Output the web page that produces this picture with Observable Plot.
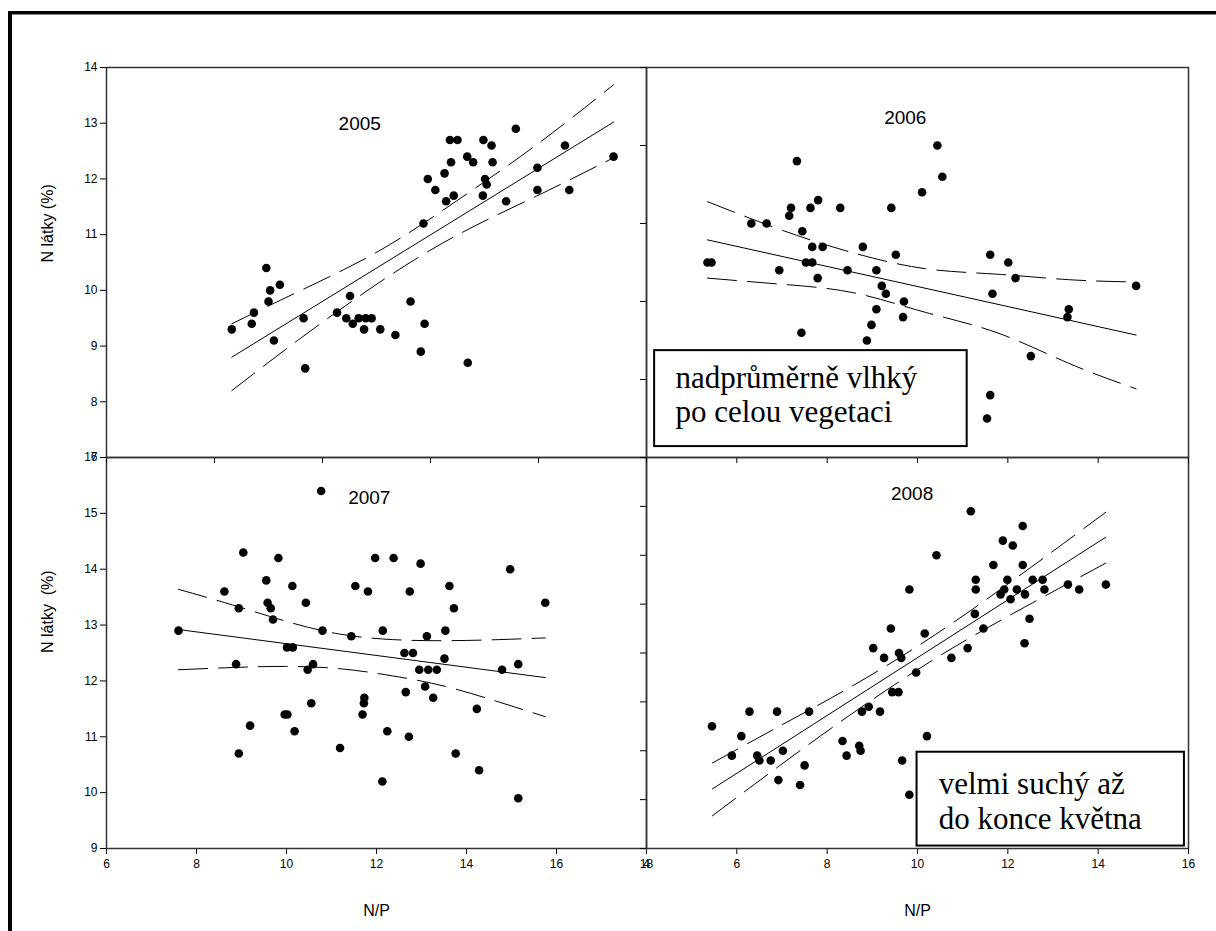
<!DOCTYPE html>
<html><head><meta charset="utf-8">
<script src="https://cdn.jsdelivr.net/npm/d3@7"></script>
<script src="https://cdn.jsdelivr.net/npm/@observablehq/plot@0.6"></script>
<style>
html,body{margin:0;padding:0;background:#fff;}
#chart{position:relative;width:1216px;height:931px;overflow:hidden;background:#fff;}
#frame{position:absolute;left:8px;top:11px;width:1230px;height:940px;border-top:3px solid #000;border-left:4px solid #000;box-shadow:inset 0 1px 0 #888;}
</style></head><body><div id="chart"><div id="frame"></div></div>
<script>
// ---------- data ----------
const np2005 = [8.32,8.69,8.73,8.96,9.00,9.03,9.10,9.21,9.65,9.68,10.27,10.44,10.51,10.56,10.67,10.77,10.80,10.91,11.07,11.35,11.63,11.82,11.87,11.89,11.95,12.09,12.26,12.29,12.36,12.38,12.43,12.50,12.68,12.69,12.79,12.98,12.97,13.01,13.04,13.13,13.15,13.40,13.58,13.98,13.98,14.49,14.57,15.39];
const n2005 = [9.3,9.4,9.6,10.4,9.8,10.0,9.1,10.1,9.5,8.6,9.6,9.5,9.9,9.4,9.5,9.3,9.5,9.5,9.3,9.2,9.8,8.9,11.2,9.4,12.0,11.8,12.1,11.6,12.7,12.3,11.7,12.7,12.4,8.7,12.3,12.7,11.7,12.0,11.9,12.6,12.3,11.6,12.9,12.2,11.8,12.6,11.8,12.4];
const fit2005X = [8.32, 15.39], fit2005Y = [8.80, 13.02];
const band2005X = [8.32, 9.58, 11.05, 12.49, 13.96, 15.39];
const band2005Hi = [9.40, 9.99, 10.71, 11.61, 12.61, 13.69];
const band2005Lo = [8.20, 9.13, 10.14, 10.99, 11.69, 12.38];

const np2006 = [5.35,5.44,6.32,6.66,6.94,7.16,7.20,7.33,7.43,7.45,7.53,7.63,7.67,7.67,7.79,7.80,7.90,8.29,8.45,8.79,8.88,8.98,9.09,9.09,9.21,9.30,9.42,9.52,9.68,9.70,10.10,10.44,10.55,11.54,11.61,11.61,11.66,12.01,12.17,12.51,13.32,13.35,14.84];
const n2006 = [10.5,10.5,11.0,11.0,10.4,11.1,11.2,11.8,9.6,10.9,10.5,11.2,10.7,10.5,10.3,11.3,10.7,11.2,10.4,10.7,9.5,9.7,9.9,10.4,10.2,10.1,11.2,10.6,9.8,10.0,11.4,12.0,11.6,8.5,8.8,10.6,10.1,10.5,10.3,9.3,9.8,9.9,10.2];
const fit2006X = [5.35, 14.84], fit2006Y = [10.79, 9.57];
const band2006X = [5.35, 7.02, 8.60, 10.18, 11.76, 13.34, 14.84];
const band2006Hi = [11.28, 10.91, 10.62, 10.42, 10.35, 10.28, 10.25];
const band2006Lo = [10.30, 10.22, 10.11, 9.86, 9.60, 9.21, 8.88];

const np2007 = [7.60,8.62,8.88,8.94,8.94,9.04,9.19,9.55,9.58,9.65,9.70,9.82,9.96,10.02,10.01,10.14,10.13,10.18,10.43,10.47,10.55,10.59,10.77,10.80,11.19,11.44,11.53,11.69,11.72,11.73,11.81,11.97,12.13,12.14,12.24,12.38,12.62,12.65,12.72,12.74,12.81,12.95,12.98,13.08,13.12,13.15,13.26,13.34,13.51,13.53,13.62,13.72,13.76,14.23,14.28,14.79,14.97,15.15,15.15,15.75];
const n2007 = [12.9,13.6,12.3,13.3,10.7,14.3,11.2,13.8,13.4,13.3,13.1,14.2,11.4,11.4,12.6,12.6,13.7,11.1,13.4,12.2,11.6,12.3,15.4,12.9,10.8,12.8,13.7,11.4,11.6,11.7,13.6,14.2,10.2,12.9,11.1,14.2,12.5,11.8,11.0,13.6,12.5,12.2,14.1,11.9,12.8,12.2,11.7,12.2,12.4,12.9,13.7,13.3,10.7,11.5,10.4,12.2,14.0,9.9,12.3,13.4];
const fit2007X = [7.60, 15.75], fit2007Y = [12.92, 12.06];
const band2007X = [7.60, 8.80, 9.98, 11.17, 12.36, 13.54, 14.73, 15.75];
const band2007Hi = [13.64, 13.36, 13.07, 12.84, 12.74, 12.72, 12.74, 12.77];
const band2007Lo = [12.20, 12.24, 12.26, 12.22, 12.09, 11.90, 11.62, 11.36];

const np2008 = [5.45,5.89,6.10,6.28,6.45,6.50,6.75,6.89,6.92,7.02,7.40,7.50,7.60,8.34,8.43,8.71,8.74,8.77,8.92,9.02,9.17,9.26,9.41,9.44,9.58,9.59,9.64,9.66,9.82,9.82,9.97,10.16,10.21,10.42,10.75,11.11,11.18,11.27,11.29,11.29,11.46,11.68,11.84,11.89,11.92,11.99,12.06,12.11,12.20,12.33,12.33,12.38,12.37,12.48,12.55,12.77,12.81,13.33,13.58,14.17];
const n2008 = [10.5,9.9,10.3,10.8,9.9,9.8,9.8,10.8,9.4,10.0,9.3,9.7,10.8,10.2,9.9,10.1,10.0,10.8,10.9,12.1,10.8,11.9,12.5,11.2,11.2,12.0,11.9,9.8,13.3,9.1,11.6,12.4,10.3,14.0,11.9,12.1,14.9,12.8,13.5,13.3,12.5,13.8,13.2,14.3,13.3,13.5,13.1,14.2,13.3,14.6,13.8,13.2,12.2,12.7,13.5,13.5,13.3,13.4,13.3,13.4];
const fit2008X = [5.46, 14.17], fit2008Y = [9.22, 14.37];
const band2008X = [5.46, 6.94, 8.66, 10.40, 12.12, 14.17];
const band2008Hi = [9.75, 10.50, 11.38, 12.38, 13.49, 14.88];
const band2008Lo = [8.67, 9.69, 10.83, 11.89, 12.81, 13.84];

// axes ticks
const ticksX2005 = [6, 8, 10, 12, 14, 16];
const ticksY2005 = [7, 8, 9, 10, 11, 12, 13, 14];
const ticksX2006 = [4, 6, 8, 10, 12, 14, 16];
const ticksY2006 = [8, 9, 10, 11, 12, 13];
const ticksX2007 = [6, 8, 10, 12, 14, 16, 18];
const ticksY2007 = [9, 10, 11, 12, 13, 14, 15, 16];
const ticksX2008 = [4, 6, 8, 10, 12, 14, 16];
const ticksY2008 = [8, 9, 10, 11, 12, 13, 14, 15, 16];

const yTitleTop = "N látky (%)";
const yTitleBottom = "N látky  (%)";
const xTitle = "N/P";
const note2006 = "nadprůměrně vlhký\npo celou vegetaci";
const note2008 = "velmi suchý až\ndo konce května";

// ---------- drawing ----------
const W = 1216, H = 931;
const SANS = "'Liberation Sans', Arial, Helvetica, sans-serif";
const SERIF = "'Liberation Serif', 'Times New Roman', serif";
const DASH = "29,11";

function panel(c) {
  const pts = c.xs.map((x, i) => ({x, y: c.ys[i]}));
  const fit = c.fitX.map((x, i) => ({x, y: c.fitY[i]}));
  const band = c.bandX.map((x, i) => ({x, hi: c.bandHi[i], lo: c.bandLo[i]}));
  const marks = [
    Plot.axisX(c.xTicks, {anchor: "bottom", tickSize: 6, tickPadding: 5, label: null, fontSize: 12,
      tickFormat: c.xLabels ? (d => String(d)) : (() => "")}),
    Plot.axisY(c.yTicks, {anchor: "left", tickSize: 6, tickPadding: 3, label: null, fontSize: 12,
      tickFormat: c.yLabels ? (d => String(d)) : (() => "")}),
    Plot.line(band, {x: "x", y: "hi", curve: "natural", stroke: "black", strokeWidth: 1, strokeDasharray: DASH}),
    Plot.line(band, {x: "x", y: "lo", curve: "natural", stroke: "black", strokeWidth: 1, strokeDasharray: DASH}),
    Plot.line(fit, {x: "x", y: "y", stroke: "black", strokeWidth: 1}),
    Plot.dot(pts, {x: "x", y: "y", r: 4.3, fill: "black"}),
    Plot.text([c.year], {x: "x", y: "y", text: "t", fontSize: 19, fontFamily: SANS, textAnchor: "middle", lineAnchor: "middle", fill: "black"})
  ];
  if (c.note) {
    marks.push(Plot.rect([c.note], {x1: "x1", x2: "x2", y1: "y1", y2: "y2", fill: "white", stroke: "black", strokeWidth: 2}));
    marks.push(Plot.text([c.note], {x: "tx", y: "ty", text: "t", fontSize: 31, fontFamily: SERIF, textAnchor: "start", lineAnchor: "middle", lineHeight: c.note.lh, fill: "black"}));
  }
  if (c.yTitle) marks.push(Plot.text([{t: c.yTitle}], {text: "t", frameAnchor: "left", dx: -59, rotate: -90, fontSize: 16, fontFamily: SANS, fill: "black"}));
  if (c.xTitle) marks.push(Plot.text([{t: c.xTitle}], {text: "t", frameAnchor: "bottom", dy: 67, fontSize: 16, fontFamily: SANS, fill: "black"}));
  marks.push(Plot.frame({stroke: "#333", strokeWidth: 1.5}));
  return Plot.plot({
    width: W, height: H,
    marginLeft: c.box[0], marginRight: W - c.box[1], marginTop: c.box[2], marginBottom: H - c.box[3],
    x: {domain: c.xDomain}, y: {domain: c.yDomain},
    style: {position: "absolute", left: "0px", top: "0px", background: "transparent", overflow: "visible",
      fontFamily: SANS, fontSize: "12px", color: "black"},
    marks
  });
}

const chart = document.getElementById("chart");
const panels = [
  {box: [106, 646, 457, 848], xDomain: [6, 18], yDomain: [9, 16], xTicks: ticksX2007, yTicks: ticksY2007, xLabels: true, yLabels: true,
   xs: np2007, ys: n2007, fitX: fit2007X, fitY: fit2007Y, bandX: band2007X, bandHi: band2007Hi, bandLo: band2007Lo,
   year: {x: 11.84, y: 15.28, t: "2007"}, yTitle: yTitleBottom, xTitle: xTitle},
  {box: [646, 1188, 457, 848], xDomain: [4, 16], yDomain: [8, 16], xTicks: ticksX2008, yTicks: ticksY2008, xLabels: true, yLabels: false,
   xs: np2008, ys: n2008, fitX: fit2008X, fitY: fit2008Y, bandX: band2008X, bandHi: band2008Hi, bandLo: band2008Lo,
   year: {x: 9.88, y: 15.26, t: "2008"}, xTitle: xTitle,
   note: {x1: 9.99, x2: 15.91, y1: 9.97, y2: 8.05, tx: 10.47, ty: 8.99, t: note2008, lh: 1.15}},
  {box: [106, 646, 67, 457], xDomain: [6, 16], yDomain: [7, 14], xTicks: ticksX2005, yTicks: ticksY2005, xLabels: false, yLabels: true,
   xs: np2005, ys: n2005, fitX: fit2005X, fitY: fit2005Y, bandX: band2005X, bandHi: band2005Hi, bandLo: band2005Lo,
   year: {x: 10.69, y: 12.98, t: "2005"}, yTitle: yTitleTop},
  {box: [646, 1188, 67, 457], xDomain: [4, 16], yDomain: [8, 13], xTicks: ticksX2006, yTicks: ticksY2006, xLabels: false, yLabels: false,
   xs: np2006, ys: n2006, fitX: fit2006X, fitY: fit2006Y, bandX: band2006X, bandHi: band2006Hi, bandLo: band2006Lo,
   year: {x: 9.73, y: 12.35, t: "2006"},
   note: {x1: 4.18, x2: 11.10, y1: 9.37, y2: 8.14, tx: 4.64, ty: 8.81, t: note2006, lh: 1.08}}
];
for (const p of panels) chart.appendChild(panel(p));
</script></body></html>
